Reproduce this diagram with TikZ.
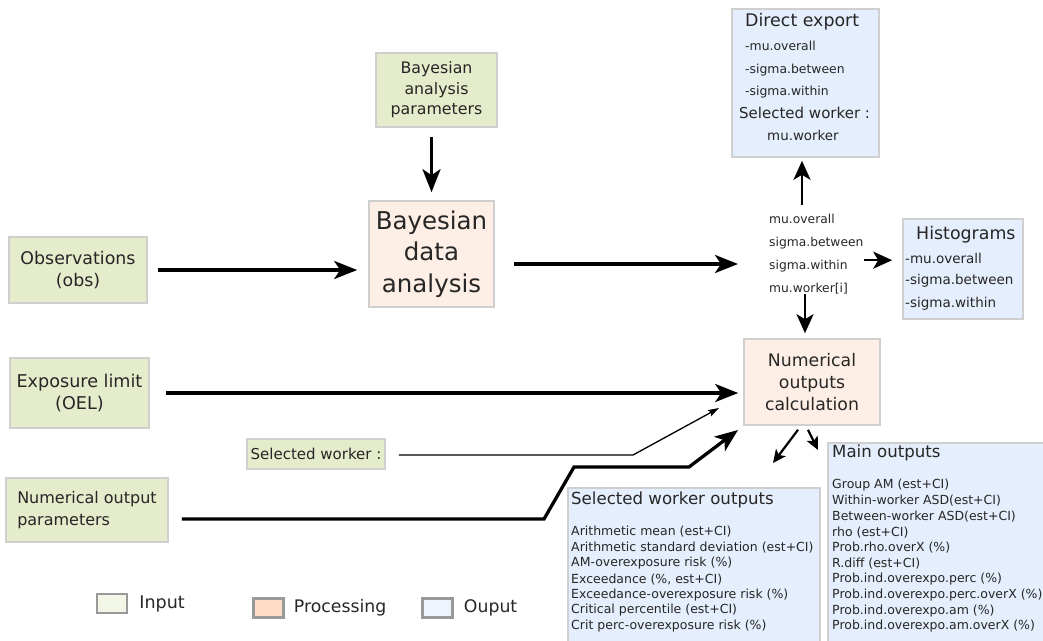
\documentclass[tikz,border=0pt]{standalone}
\usepackage{fontspec}
\setmainfont{DejaVu Sans}
\usepackage{tikz}
\usetikzlibrary{positioning}
\usetikzlibrary{arrows.meta}

\definecolor{ingreen}{HTML}{E4ECCB}
\definecolor{procpeach}{HTML}{FDEFE5}
\definecolor{outblue}{HTML}{E5EEFC}
\definecolor{edgegray}{HTML}{CFCFCF}
\definecolor{leggray}{HTML}{999999}
\definecolor{legin}{HTML}{F2F6E6}
\definecolor{legproc}{HTML}{FCDCC7}
\definecolor{legout}{HTML}{EEF3FD}
\definecolor{inkgray}{HTML}{262626}

\tikzset{
    box/.style={draw=edgegray, line width=1.6pt, inner sep=0pt, align=center, text=inkgray},
    inbox/.style={box, fill=ingreen},
    procbox/.style={box, fill=procpeach},
    outbox/.style={box, fill=outblue},
    legbox/.style={draw=leggray, line width=2.5pt, minimum width=30, minimum height=19, inner sep=0pt},
    txt/.style={inner sep=0pt, text=inkgray},
    bigarrow/.style={line width=3.3pt, line join=miter, -{Stealth[length=23pt, width=18pt, inset=6pt]}},
    midarrow/.style={line width=2.6pt, -{Stealth[length=19pt, width=17pt, inset=5pt]}},
    smallarrow/.style={line width=2.2pt, -{Stealth[length=13pt, width=12pt, inset=3pt]}},
    thinarrow/.style={line width=1.3pt, -{Stealth[length=11pt, width=7pt, inset=2pt]}}
}

\begin{document}
\begin{tikzpicture}[x=1pt, y=-1pt]
    \useasboundingbox (0,0) rectangle (1043,640);
    \clip (0,0) rectangle (1043,640);

    % inputs
    \node[inbox, minimum width=121, minimum height=74, font=\fontsize{15.8}{20.5}\selectfont] (bayparams) at (436.5,90) {Bayesian\\analysis\\parameters};
    \node[inbox, minimum width=138, minimum height=66, font=\fontsize{17.4}{21.5}\selectfont] (obs) at (78,270) {Observations\\(obs)};
    \node[inbox, minimum width=139, minimum height=70, font=\fontsize{17.6}{22}\selectfont] (oel) at (79.5,393) {Exposure limit\\(OEL)};
    \node[inbox, minimum width=138, minimum height=30, font=\fontsize{15}{17}\selectfont] (selworker) at (316,454) {Selected worker :};
    \node[inbox, minimum width=162, minimum height=64, align=left, font=\fontsize{16}{21.5}\selectfont] (numparams) at (87,510) {Numerical output\\parameters};

    % processing
    \node[procbox, minimum width=125, minimum height=106, font=\fontsize{24.5}{31.5}\selectfont] (bayanalysis) at (431.5,254) {Bayesian\\data\\analysis};
    \node[procbox, minimum width=136, minimum height=86, font=\fontsize{17.3}{22}\selectfont] (numcalc) at (812,382) {Numerical\\outputs\\calculation};

    % posterior parameters
    \node[txt, anchor=north west, align=left, font=\fontsize{12.3}{23}\selectfont] (params) at (769,214) {mu.overall\\sigma.between\\sigma.within\\mu.worker[i]};

    % outputs
    \node[outbox, minimum width=147, minimum height=148] (direxport) at (805.5,83) {};
    \node[txt, anchor=west, font=\fontsize{17.4}{20}\selectfont] (dextitle) at (745,22) {Direct export};
    \foreach \y/\name [count=\i] in {46/-mu.overall, 70/-sigma.between, 92/-sigma.within}
        \node[txt, anchor=west, font=\fontsize{12.4}{14}\selectfont] (dexitem\i) at (745,\y) {\name};
    \node[txt, anchor=west, font=\fontsize{15}{17}\selectfont] (dexsel) at (739,113) {Selected worker :};
    \node[txt, anchor=west, font=\fontsize{13.4}{15}\selectfont] (dexworker) at (767,136) {mu.worker};

    \node[outbox, minimum width=120, minimum height=100] (hist) at (963,269) {};
    \node[txt, anchor=west, font=\fontsize{17.4}{20}\selectfont] (histtitle) at (916,235) {Histograms};
    \foreach \y/\name [count=\i] in {258/-mu.overall, 281/-sigma.between, 304/-sigma.within}
        \node[txt, anchor=west, font=\fontsize{13.5}{15}\selectfont] (histitem\i) at (905,\y) {\name};

    \node[outbox, minimum width=230, minimum height=215, anchor=north west] (mainout) at (827,442) {};
    \node[txt, anchor=west, font=\fontsize{16.6}{19}\selectfont] (maintitle) at (832,453) {Main outputs};
    \foreach \name [count=\i] in {Group AM (est+CI), Within-worker ASD(est+CI), Between-worker ASD(est+CI),
        rho (est+CI), Prob.rho.overX (\%), R.diff (est+CI), Prob.ind.overexpo.perc (\%),
        Prob.ind.overexpo.perc.overX (\%), Prob.ind.overexpo.am (\%), Prob.ind.overexpo.am.overX (\%)}
        \node[txt, anchor=west, font=\fontsize{12.5}{15.7}\selectfont] (mainitem\i) at (832,{485+15.7*(\i-1)}) {\name};

    \node[outbox, minimum width=252, minimum height=170, anchor=north west] (selout) at (567,487) {};
    \node[txt, anchor=west, font=\fontsize{16.6}{19}\selectfont] (seltitle) at (571,500) {Selected worker outputs};
    \foreach \name [count=\i] in {Arithmetic mean (est+CI), Arithmetic standard deviation (est+CI),
        AM-overexposure risk (\%), {Exceedance (\%, est+CI)}, Exceedance-overexposure risk (\%),
        Critical percentile (est+CI), Crit perc-overexposure risk (\%)}
        \node[txt, anchor=west, font=\fontsize{12.5}{15.7}\selectfont] (selitem\i) at (571,{532+15.7*(\i-1)}) {\name};

    % connectors
    \draw[bigarrow, shorten <=9pt, shorten >=8pt] (bayparams.south -| bayanalysis.north) -- (bayanalysis.north);
    \draw[bigarrow, shorten <=10pt, shorten >=11pt] (obs.east) -- (obs.east -| bayanalysis.west);
    \draw[bigarrow, shorten <=19pt, shorten >=31pt] ([yshift=-10pt]bayanalysis.east) -- ([yshift=-10pt]bayanalysis.east -| params.west);

    \draw[midarrow, shorten <=9pt, shorten >=3pt] ([xshift=-3.5pt]direxport.south |- params.north) -- ([xshift=-3.5pt]direxport.south);
    \draw[midarrow, shorten >=10pt] ([yshift=-6pt]params.east) -- ([yshift=-6pt]params.east -| hist.west);
    \draw[midarrow, shorten >=5pt] ([xshift=-7pt]numcalc.north |- params.south) -- ([xshift=-7pt]numcalc.north);

    \draw[bigarrow, shorten <=16pt, shorten >=5pt] (oel.east) -- (oel.east -| numcalc.west);

    \coordinate (swbend) at (633,455);
    \coordinate (swtip) at (719,408);
    \draw[thinarrow, shorten <=13pt] (selworker.east |- swbend) -- (swbend) -- (swtip);

    \coordinate (npbend1) at (544,519);
    \coordinate (npbend2) at (574,467);
    \coordinate (npbend3) at (689,467);
    \coordinate (nptip) at (738,430);
    \draw[bigarrow, shorten <=13pt] (numparams.east |- npbend1) -- (npbend1) -- (npbend2) -- (npbend3) -- (nptip);

    \coordinate (selouttip) at (773,463);
    \coordinate (mainouttip) at (818,450);
    \draw[smallarrow] ([xshift=-14pt,yshift=-4pt]numcalc.south) -- (selouttip);
    \draw[smallarrow] ([xshift=-4pt,yshift=-4pt]numcalc.south) -- (mainouttip);

    % legend
    \node[legbox, fill=legin] (legin) at (112,603.5) {};
    \node[txt, right=11pt of legin, font=\fontsize{17.5}{20}\selectfont] (leginlbl) {Input};
    \node[legbox, fill=legproc] (legproc) at (268.5,608) {};
    \node[txt, right=9pt of legproc, font=\fontsize{17.3}{20}\selectfont] (legproclbl) {Processing};
    \node[legbox, fill=legout] (legout) at (437.5,608) {};
    \node[txt, right=10pt of legout, font=\fontsize{17.3}{20}\selectfont] (legoutlbl) {Ouput};
\end{tikzpicture}
\end{document}
